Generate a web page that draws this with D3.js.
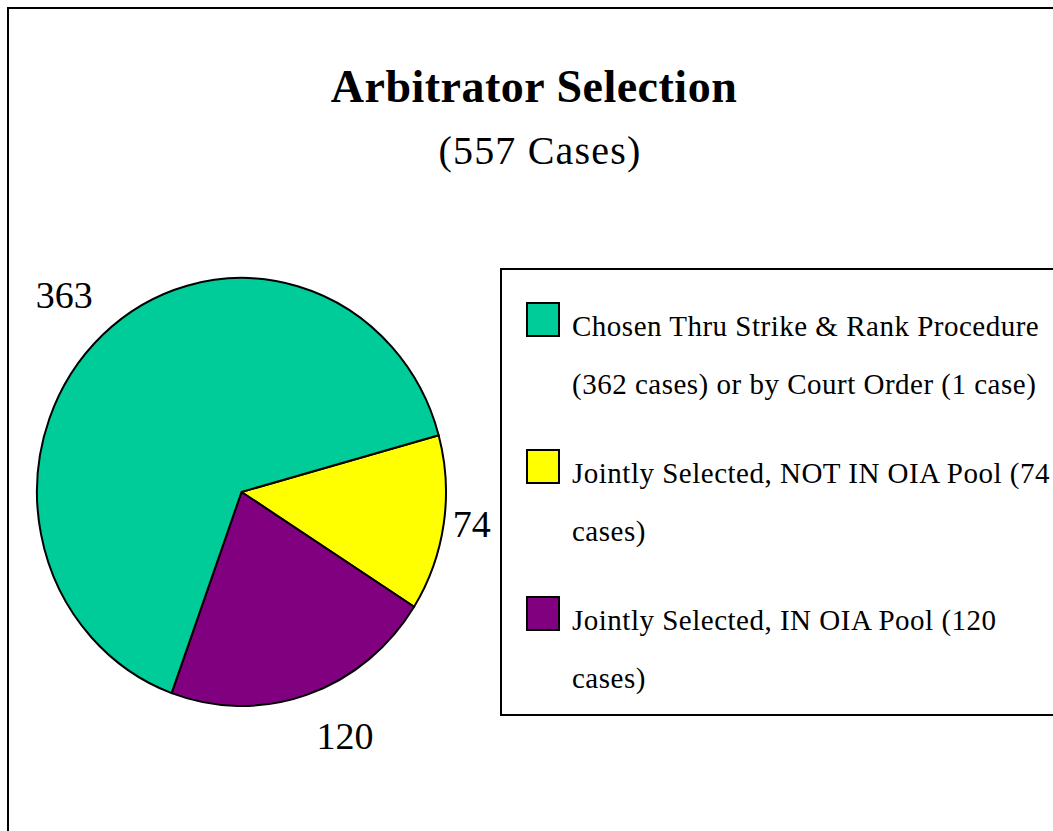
<!DOCTYPE html>
<html>
<head>
<meta charset="utf-8">
<script src="https://cdn.jsdelivr.net/npm/d3@7"></script>
<style>
  body { margin: 0; background: #fff; }
  svg { display: block; font-family: "Liberation Serif", "Times New Roman", serif; }
</style>
</head>
<body>
<div id="chart"></div>
<script>
// data
const categories = ["Jointly Selected, NOT IN OIA Pool", "Jointly Selected, IN OIA Pool", "Chosen Thru Strike & Rank Procedure"];
const values = [74, 120, 363];
const colors = ["#ffff00", "#800080", "#00cc99"];
const legendOrder = [2, 0, 1];
const legendLines = [
  ["Jointly Selected, NOT IN OIA Pool (74", "cases)"],
  ["Jointly Selected, IN OIA Pool (120", "cases)"],
  ["Chosen Thru Strike & Rank Procedure", "(362 cases) or by Court Order (1 case)"]
];
const TITLE = "Arbitrator Selection";
const SUBTITLE = "(557 Cases)";

// set constants
const WIDTH = 1053, HEIGHT = 831;
const CX = 241.5, CY = 492, RX = 204.5, RY = 214;
const START = 74.6 * Math.PI / 180;

const svg = d3.select("#chart")
  .append("svg")
    .attr("width", WIDTH)
    .attr("height", HEIGHT);

// outer frame
svg.append("rect")
  .attr("x", 8).attr("y", 8)
  .attr("width", 1200).attr("height", 1000)
  .attr("fill", "none")
  .attr("stroke", "#000")
  .attr("stroke-width", 2);

// titles
svg.append("text")
  .attr("x", 534).attr("y", 102)
  .attr("text-anchor", "middle")
  .attr("font-size", "46px")
  .attr("font-weight", "bold")
  .attr("letter-spacing", "0.5px")
  .text(TITLE);

svg.append("text")
  .attr("x", 540).attr("y", 164)
  .attr("text-anchor", "middle")
  .attr("font-size", "40px")
  .attr("letter-spacing", "1.2px")
  .text(SUBTITLE);

// pie
const pie = d3.pie().sort(null).value(d => d)
  .startAngle(START).endAngle(START + 2 * Math.PI);
const arcs = pie(values);
const arc = d3.arc().innerRadius(0).outerRadius(RY);

const pieG = svg.append("g")
  .attr("transform", "translate(" + CX + "," + CY + ") scale(" + (RX / RY) + ",1)");

pieG.selectAll("path")
  .data(arcs)
  .enter()
  .append("path")
    .attr("d", arc)
    .attr("fill", (d, i) => colors[i])
    .attr("stroke", "#000")
    .attr("stroke-width", 2)
    .attr("stroke-linejoin", "round")
    .attr("vector-effect", "non-scaling-stroke");

// value labels placed just outside the edge
svg.selectAll("text.val")
  .data(arcs)
  .enter()
  .append("text")
    .attr("class", "val")
    .attr("font-size", "38px")
    .each(function(d) {
      const a = (d.startAngle + d.endAngle) / 2;
      const s = Math.sin(a), c = Math.cos(a);
      const px = CX + RX * s, py = CY - RY * c;
      let x = px, anchor = "middle";
      if (s > 0.2) { x = px + 9; anchor = "start"; }
      else if (s < -0.2) { x = px - 10; anchor = "end"; }
      let y;
      if (c > 0.5) y = py - 27;
      else if (c < -0.5) y = py + 54;
      else y = py + 13;
      d3.select(this)
        .attr("x", x).attr("y", y)
        .attr("text-anchor", anchor)
        .text(d.data);
    });

// legend
const LEG_X = 501, LEG_Y = 269, LEG_H = 446;
svg.append("rect")
  .attr("x", LEG_X).attr("y", LEG_Y)
  .attr("width", 700).attr("height", LEG_H)
  .attr("fill", "#fff")
  .attr("stroke", "#000")
  .attr("stroke-width", 2);

const items = svg.selectAll("g.leg")
  .data(legendOrder)
  .enter()
  .append("g")
    .attr("class", "leg")
    .attr("transform", (d, i) => "translate(" + LEG_X + "," + (LEG_Y + 67 + i * 147) + ")");

items.append("rect")
  .attr("x", 26).attr("y", -33)
  .attr("width", 32).attr("height", 33)
  .attr("fill", d => colors[d])
  .attr("stroke", "#000")
  .attr("stroke-width", 2);

items.each(function(d) {
  d3.select(this).selectAll("text")
    .data(legendLines[d])
    .enter()
    .append("text")
      .attr("x", 71)
      .attr("y", (t, j) => j * 58)
      .attr("font-size", "29px")
      .attr("letter-spacing", "0.5px")
      .text(t => t);
});
</script>
</body>
</html>
